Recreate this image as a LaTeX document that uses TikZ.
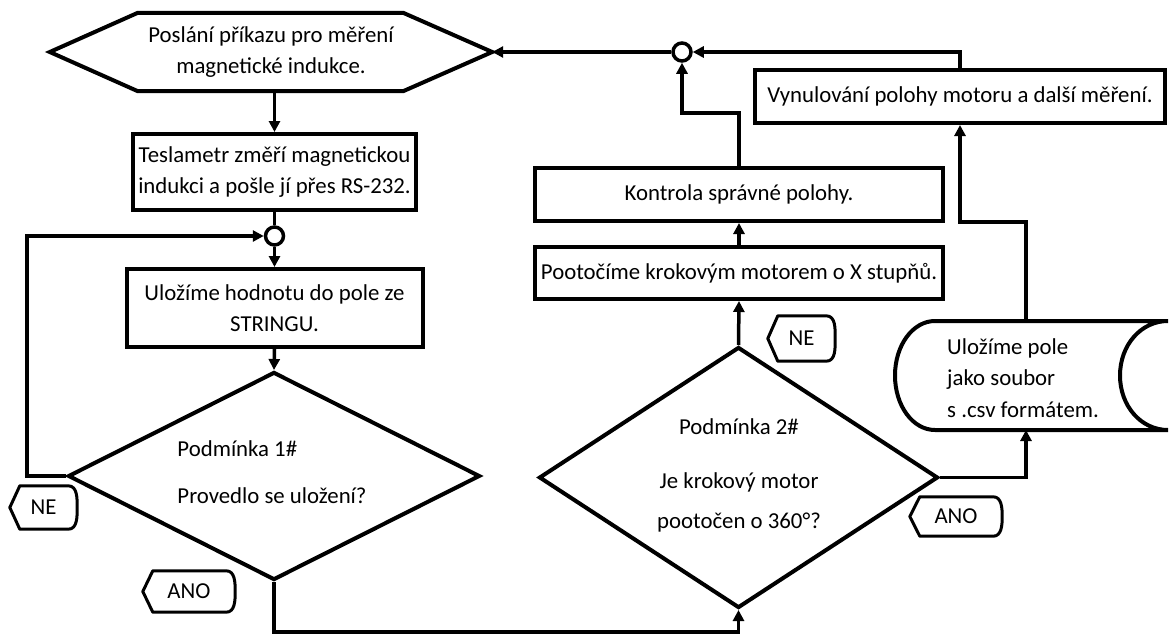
\documentclass[tikz,border=0pt]{standalone}
\usepackage{fontspec}
\setmainfont{Carlito}
\usetikzlibrary{arrows.meta,shapes.geometric}
\begin{document}
\begin{tikzpicture}[x=1pt,y=-1pt,
  txt/.style={font=\fontsize{22.8}{31.5}\selectfont, align=center, inner sep=0pt},
  shp/.style={line width=4pt, line join=miter},
  boxn/.style={txt, draw, shp, rectangle, minimum width=#1},
  ln/.style={line width=3.5pt},
  arr/.style={line width=3.5pt, -{Triangle[length=11pt,width=11pt]}},
  junc/.style={circle, draw, line width=3.5pt, minimum size=18pt, inner sep=0pt},
  dia/.style={diamond, draw, shp, inner sep=0pt},
  tag/.style={txt, minimum height=#1},
]
\useasboundingbox (0,0) rectangle (1171,635);
\fill[white] (0,0) rectangle (1171,635);

% nodes
\node[txt, minimum width=442pt, minimum height=78pt] (hex) at (271,52) {Poslání příkazu pro měření\\magnetické indukce.};
\node[boxn=283pt, minimum height=76pt] (tes) at (274.5,172) {Teslametr změří magnetickou\\indukci a pošle jí přes RS-232.};
\node[junc] (c1) at (274.5,236) {};
\node[boxn=296pt, minimum height=78pt] (ulo) at (274.5,308) {Uložíme hodnotu do pole ze\\STRINGU.};
\node[dia, minimum width=412pt, minimum height=208pt] (d1) at (274,476) {};
\node[txt, align=left] (d1t) at (272,472) {Podmínka 1\#\\[15pt]Provedlo se uložení?};
\node[dia, minimum width=399pt, minimum height=261pt] (d2) at (738.5,477.5) {};
\node[txt] (d2t) at (739,475) {Podmínka 2\#\\[23pt]Je krokový motor\\[8pt]pootočen o 360°?};
\node[boxn=408pt, minimum height=52pt] (poot) at (739,273) {Pootočíme krokovým motorem o X stupňů.};
\node[boxn=408pt, minimum height=53pt] (kon) at (739,194.5) {Kontrola správné polohy.};
\node[junc] (c2) at (682,52) {};
\node[boxn=410pt, minimum height=53pt] (vyn) at (960,96.5) {Vynulování polohy motoru a další měření.};
\node[txt, align=left] (sto) at (1023,378) {Uložíme pole\\jako soubor\\s .csv formátem.};
\coordinate (stoT) at (1026,321);
\coordinate (stoB) at (1026,430);
\coordinate (bot) at (0,632);

\node[tag=43pt, minimum width=67pt] (ne1) at (43.5,507.5) {NE};
\node[tag=41pt, minimum width=92pt] (ano1) at (189,591.5) {ANO};
\node[tag=45pt, minimum width=67pt] (ne2) at (801.5,338.5) {NE};
\node[tag=39pt, minimum width=92pt] (ano2) at (956,516.5) {ANO};

% outlines
\draw[shp] (hex.west) -- ([xshift=88pt]hex.north west) -- ([xshift=-89pt]hex.north east) -- (hex.east) -- ([xshift=-89pt]hex.south east) -- ([xshift=88pt]hex.south west) -- cycle;
\draw[shp] (935,321) -- (1168,321) .. controls (1141,321) and (1120,345) .. (1120,375.5) .. controls (1120,406) and (1141,430) .. (1168,430) -- (935,430) .. controls (913,430) and (895,406) .. (895,375.5) .. controls (895,345) and (913,321) .. cycle;
\foreach \n in {ne1,ano1,ne2,ano2}
  \draw[line width=3pt, line join=round] (\n.west) -- ([xshift=10pt]\n.north west) -- ([xshift=-9pt]\n.north east) to[out=0,in=90] (\n.east) to[out=-90,in=0] ([xshift=-9pt]\n.south east) -- ([xshift=10pt]\n.south west) -- cycle;

% connectors
\draw[arr] (hex.south -| tes.north) -- (tes.north);
\draw[ln] (tes.south) -- (c1.north);
\draw[arr] (c1.south) -- (ulo.north);
\draw[arr] (ulo.south) -- (d1.north);
\draw[arr] (d1.west) -- ++(-39,0) |- (c1.west);
\draw[arr] (d1.south) -- (d1.south |- bot) -| (d2.south);
\draw[arr] (d2.north) -- (poot.south);
\draw[arr] (poot.north) -- (kon.south);
\draw[arr] (kon.north) -- ++(0,-53) -| (c2.south);
\draw[arr] (d2.east) -| (stoB);
\draw[arr] (stoT) -- ++(0,-99) -| (vyn.south);
\draw[arr] (vyn.north) |- (c2.east);
\draw[arr] (c2.west) -- (hex.east);
\end{tikzpicture}
\end{document}
